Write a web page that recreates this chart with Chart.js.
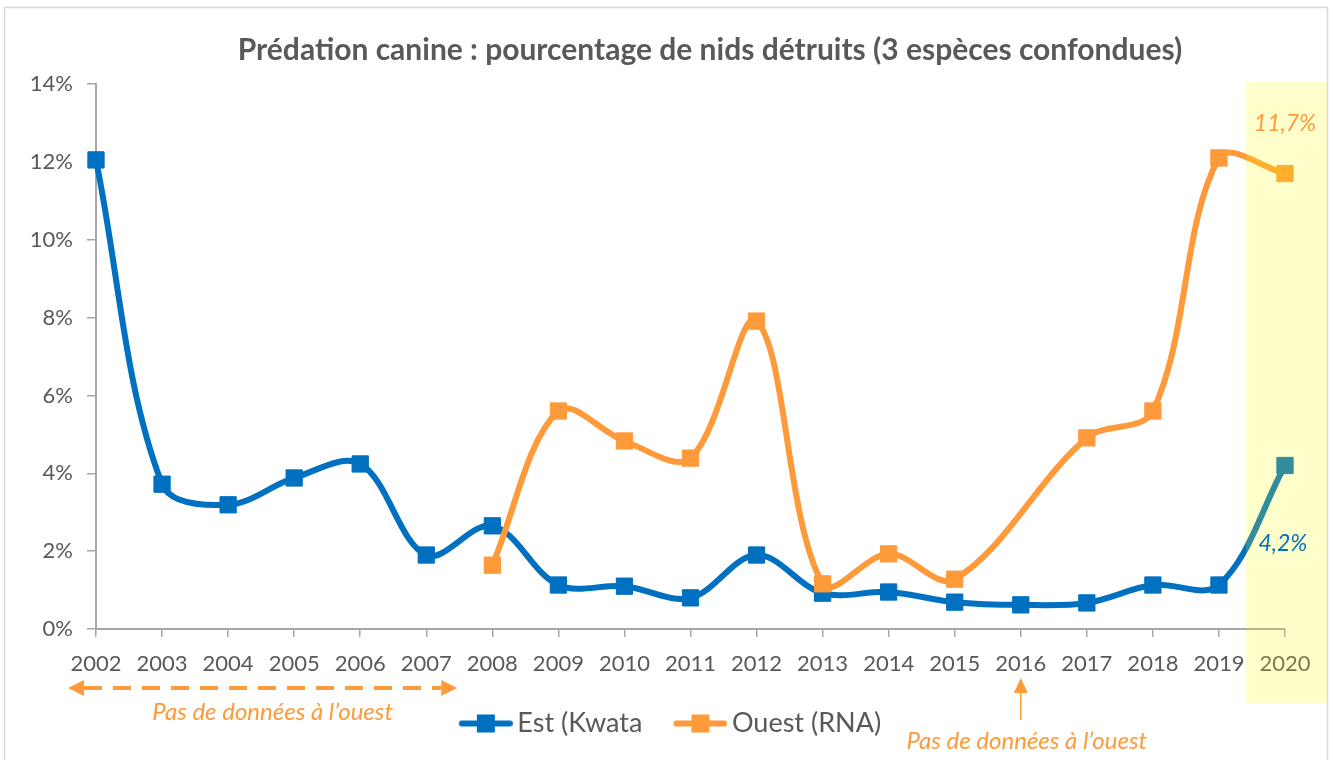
<!DOCTYPE html>
<html lang="fr">
<head>
<meta charset="utf-8">
<title>Prédation canine</title>
<script src="https://cdn.jsdelivr.net/npm/chart.js@4.4.1/dist/chart.umd.min.js"></script>
<style>
    html, body { margin: 0; padding: 0; background: #fff; }
    #wrap { position: relative; width: 1333px; height: 760px; }
</style>
</head>
<body>
<div id="wrap"><canvas id="predationChart" width="1333" height="760"></canvas></div>
<script>
// Data (% of nests destroyed)
const years = ['2002', '2003', '2004', '2005', '2006', '2007', '2008', '2009', '2010', '2011',
               '2012', '2013', '2014', '2015', '2016', '2017', '2018', '2019', '2020'];
const estKwata = [12.05, 3.72, 3.19, 3.88, 4.24, 1.90, 2.65, 1.13, 1.10, 0.80,
                  1.90, 0.92, 0.95, 0.69, 0.62, 0.67, 1.13, 1.13, 4.2];
const ouestRNA = [null, null, null, null, null, null, 1.64, 5.60, 4.83, 4.39,
                  7.91, 1.16, 1.93, 1.28, null, 4.91, 5.60, 12.1, 11.7];
const yTicks = [0, 2, 4, 6, 8, 10, 12, 14];
const noDataText = 'Pas de données à l’ouest';
const lastEstText = '4,2%';
const lastOuestText = '11,7%';

const BLUE = '#0070C0';
const ORANGE = '#FF9A3A';
const GREY = '#595959';
const AXIS = '#A6A6A6';

Chart.defaults.font.family = "Lato, 'Liberation Sans', sans-serif";
Chart.defaults.color = GREY;

// legend symbol: line with a square in the middle, pushed to the right of the image
function legendSymbol(color) {
    const c = document.createElement('canvas');
    c.width = 80;
    c.height = 22;
    const g = c.getContext('2d');
    g.strokeStyle = color;
    g.lineWidth = 6;
    g.lineCap = 'round';
    g.beginPath();
    g.moveTo(29, 11);
    g.lineTo(77, 11);
    g.stroke();
    g.fillStyle = color;
    g.fillRect(44, 2, 18, 18);
    return c;
}

function arrowHead(ctx, tipX, tipY, dir, len, half) {
    ctx.beginPath();
    ctx.moveTo(tipX, tipY);
    if (dir === 'left') {
        ctx.lineTo(tipX + len, tipY - half);
        ctx.lineTo(tipX + len, tipY + half);
    } else if (dir === 'right') {
        ctx.lineTo(tipX - len, tipY - half);
        ctx.lineTo(tipX - len, tipY + half);
    } else {
        ctx.lineTo(tipX - half, tipY + len);
        ctx.lineTo(tipX + half, tipY + len);
    }
    ctx.closePath();
    ctx.fill();
}

// light frame around the whole figure
const framePlugin = {
    id: 'frame',
    beforeDraw(chart) {
        const ctx = chart.ctx;
        ctx.save();
        ctx.fillStyle = '#fff';
        ctx.fillRect(0, 0, chart.width, chart.height);
        ctx.strokeStyle = '#D9D9D9';
        ctx.lineWidth = 1.5;
        ctx.strokeRect(4.5, 7.5, chart.width - 10, chart.height);
        ctx.restore();
    }
};

// move title and legend off the default centre
const shiftPlugin = {
    id: 'shiftBoxes',
    afterLayout(chart) {
        const t = chart.titleBlock;
        const dt = 710 - (t.left + t.right) / 2;
        t.left += dt;
        t.right += dt;
        const lg = chart.legend;
        lg.left += 19;
        lg.right += 19;
    }
};

// yellow band over 2020
const highlightPlugin = {
    id: 'highlight2020',
    afterDatasetsDraw(chart) {
        const {ctx, chartArea, scales: {x}} = chart;
        const cx = x.getPixelForValue(years.length - 1);
        ctx.save();
        ctx.fillStyle = 'rgba(255, 255, 0, 0.2)';
        ctx.fillRect(cx - 39, chartArea.top - 2, 82, 703 - chartArea.top + 2);
        ctx.restore();
    }
};

// arrows and notes
const notesPlugin = {
    id: 'notes',
    afterDraw(chart) {
        const {ctx, scales: {x, y}} = chart;
        const x2002 = x.getPixelForValue(0);
        const x2007 = x.getPixelForValue(5);
        const x2016 = x.getPixelForValue(14);
        const x2020 = x.getPixelForValue(18);
        ctx.save();
        ctx.fillStyle = ORANGE;
        ctx.strokeStyle = ORANGE;

        // dashed double arrow under 2002-2007
        const ay = 688;
        const left = x2002 - 28;
        const right = x2007 + 31;
        ctx.lineWidth = 4;
        ctx.setLineDash([18, 11]);
        ctx.beginPath();
        ctx.moveTo(left + 16, ay);
        ctx.lineTo(right - 16, ay);
        ctx.stroke();
        ctx.setLineDash([]);
        arrowHead(ctx, left, ay, 'left', 16, 8);
        arrowHead(ctx, right, ay, 'right', 16, 8);

        ctx.font = "italic 24px Lato, 'Liberation Sans', sans-serif";
        ctx.textAlign = 'center';
        ctx.textBaseline = 'middle';
        ctx.fillText(noDataText, (left + right) / 2 + 10, 712);

        // thin arrow pointing at 2016
        ctx.lineWidth = 1.5;
        ctx.beginPath();
        ctx.moveTo(x2016, 720);
        ctx.lineTo(x2016, 690);
        ctx.stroke();
        arrowHead(ctx, x2016, 678, 'up', 15, 7);
        ctx.fillText(noDataText, x2016 + 6, 741);

        // last values
        ctx.font = "italic 23px Lato, 'Liberation Sans', sans-serif";
        ctx.fillText(lastOuestText, x2020, y.getPixelForValue(ouestRNA[18]) - 50);
        ctx.fillStyle = BLUE;
        ctx.fillText(lastEstText, x2020 - 2, y.getPixelForValue(estKwata[18]) + 78);
        ctx.restore();
    }
};

new Chart(document.getElementById('predationChart'), {
    type: 'line',
    data: {
        labels: years,
        datasets: [{
            label: 'Est (Kwata',
            data: estKwata,
            borderColor: BLUE,
            backgroundColor: BLUE,
            borderWidth: 6,
            tension: 0.35,
            pointStyle: 'rect',
            pointRadius: 11.5,
            pointBorderWidth: 1,
            pointBackgroundColor: BLUE,
            pointBorderColor: BLUE,
            clip: false,
            order: 1
        }, {
            label: 'Ouest (RNA)',
            data: ouestRNA,
            borderColor: ORANGE,
            backgroundColor: ORANGE,
            borderWidth: 6,
            tension: 0.35,
            spanGaps: true,
            pointStyle: 'rect',
            pointRadius: 11.5,
            pointBorderWidth: 1,
            pointBackgroundColor: ORANGE,
            pointBorderColor: ORANGE,
            clip: false,
            order: 0
        }]
    },
    options: {
        responsive: false,
        animation: false,
        events: [],
        layout: {
            padding: { left: 0, right: 48, top: 32, bottom: 13 }
        },
        plugins: {
            title: {
                display: true,
                text: 'Prédation canine : pourcentage de nids détruits (3 espèces confondues)',
                color: GREY,
                font: { size: 30, weight: 'bold' },
                padding: { top: 0, bottom: 16 }
            },
            legend: {
                position: 'bottom',
                labels: {
                    usePointStyle: true,
                    pointStyleWidth: 62,
                    padding: 14,
                    color: GREY,
                    font: { size: 27 },
                    generateLabels: function(chart) {
                        const items = Chart.defaults.plugins.legend.labels.generateLabels(chart);
                        items.forEach(function(item) {
                            const ds = chart.data.datasets[item.datasetIndex];
                            item.pointStyle = legendSymbol(ds.borderColor);
                        });
                        return items.sort((a, b) => a.datasetIndex - b.datasetIndex);
                    }
                }
            },
            tooltip: { enabled: false }
        },
        scales: {
            x: {
                offset: false,
                grid: {
                    drawOnChartArea: false,
                    drawTicks: true,
                    tickLength: 8,
                    color: AXIS,
                    lineWidth: 1.5
                },
                border: { display: true, color: AXIS, width: 2 },
                ticks: {
                    autoSkip: false,
                    maxRotation: 0,
                    padding: 14,
                    color: GREY,
                    font: { size: 22 }
                },
                afterFit: function(scale) {
                    scale.height = 67;
                }
            },
            y: {
                min: 0,
                max: 14,
                afterBuildTicks: function(scale) {
                    scale.ticks = yTicks.map(v => ({ value: v }));
                },
                grid: {
                    drawOnChartArea: false,
                    drawTicks: true,
                    tickLength: 9,
                    color: AXIS,
                    lineWidth: 1.5
                },
                border: { display: true, color: AXIS, width: 2 },
                ticks: {
                    padding: 14,
                    color: GREY,
                    font: { size: 22 },
                    callback: function(value) {
                        return value + '%';
                    }
                },
                afterFit: function(scale) {
                    scale.width = 96;
                }
            }
        }
    },
    plugins: [framePlugin, shiftPlugin, highlightPlugin, notesPlugin]
});
</script>
</body>
</html>
